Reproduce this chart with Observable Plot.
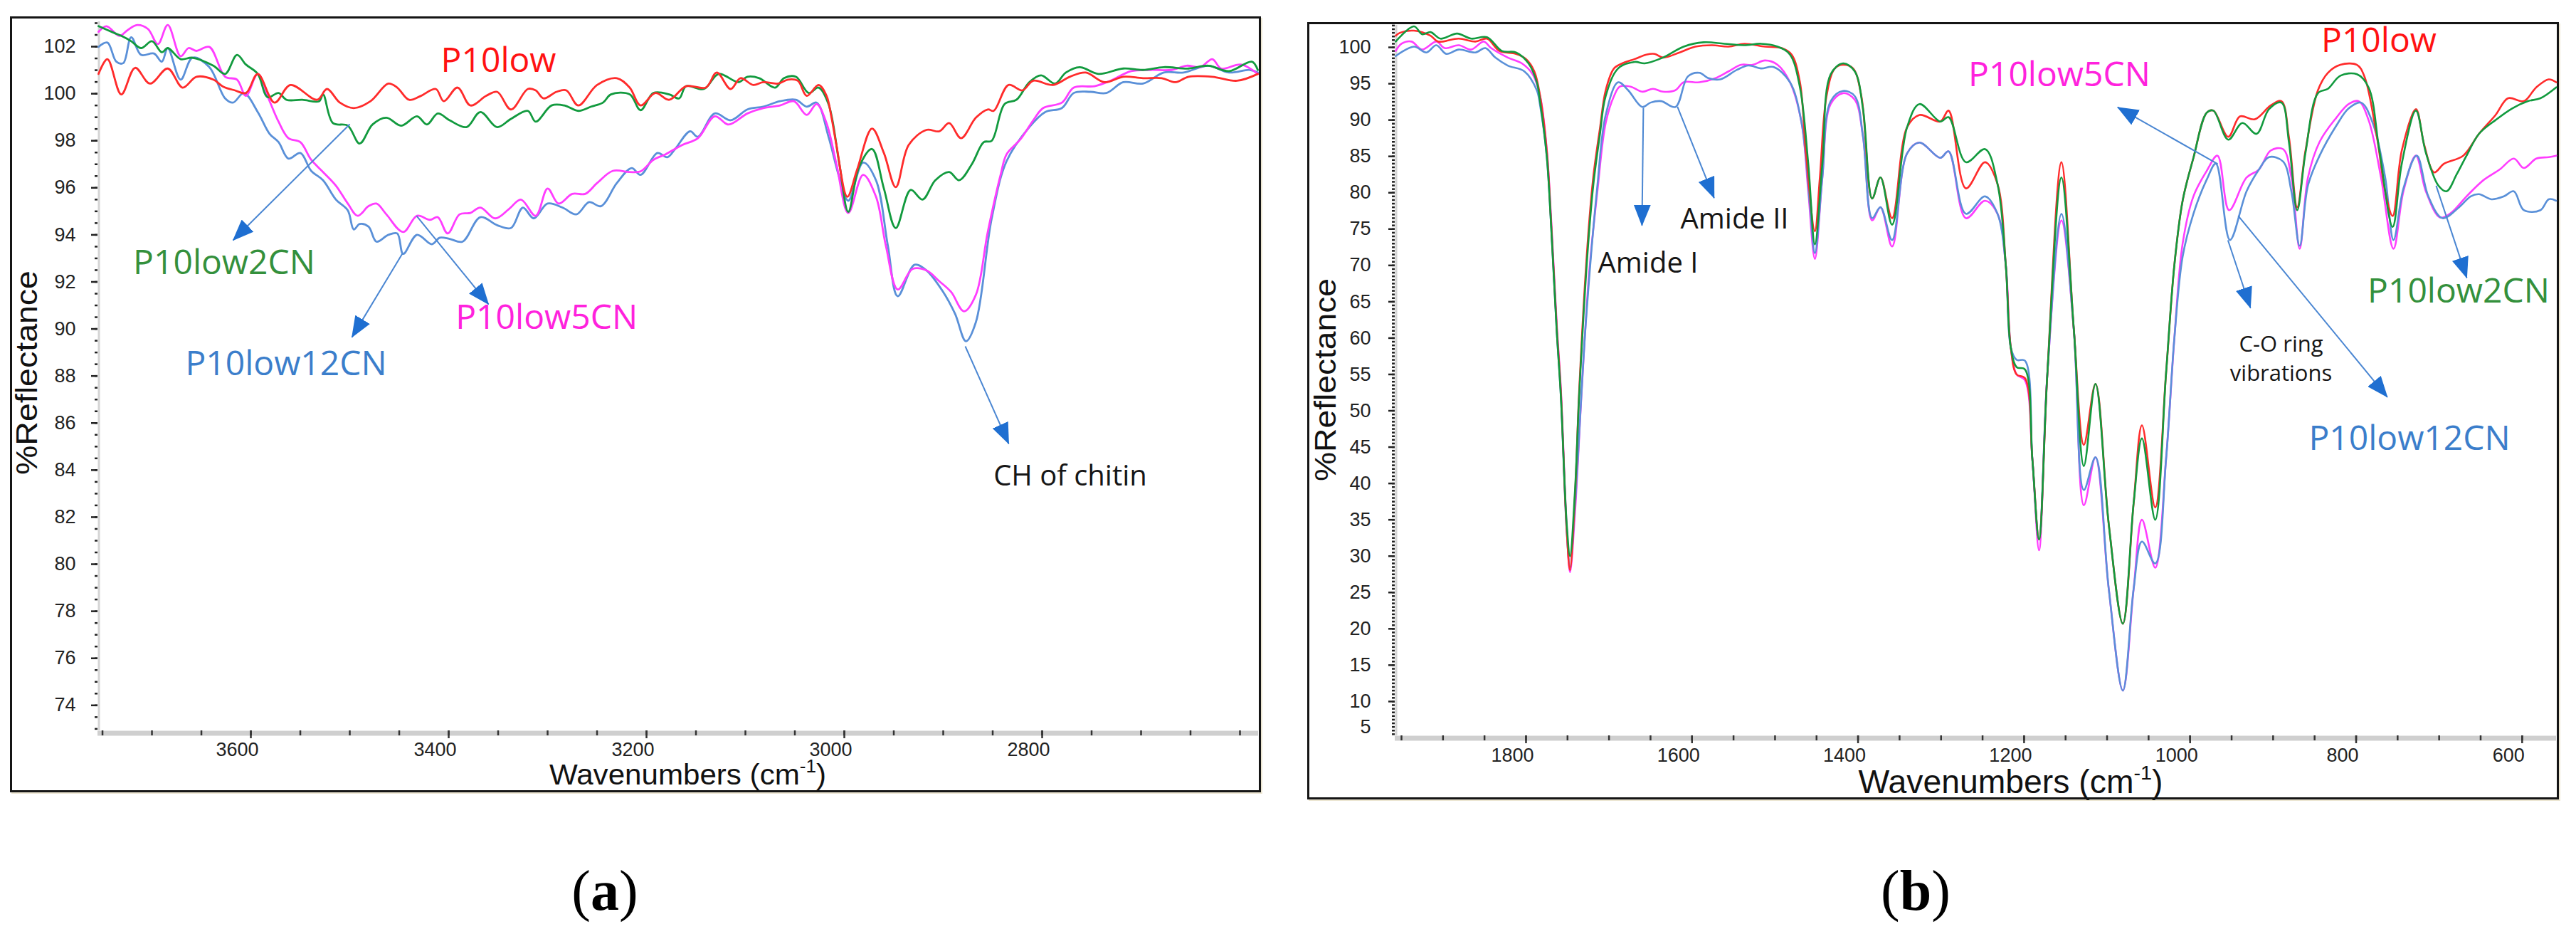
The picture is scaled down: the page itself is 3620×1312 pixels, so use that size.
<!DOCTYPE html>
<html><head><meta charset="utf-8">
<script src="https://cdn.jsdelivr.net/npm/d3@7"></script>
<script src="https://cdn.jsdelivr.net/npm/@observablehq/plot@0.6"></script>
<style>
html,body{margin:0;padding:0;background:#fff;}
body{width:3620px;height:1312px;position:relative;overflow:hidden;}
.box{position:absolute;box-sizing:border-box;border:3px solid #151515;box-shadow:2px 2px 0 #ece6d2;background:#fff;}
.plot{position:absolute;}
.plot svg{display:block;overflow:visible;}
.tag{position:absolute;font-family:"Liberation Serif","Times New Roman",serif;font-size:80px;line-height:80px;transform:translateX(-50%);white-space:nowrap;color:#000;}
</style>
</head><body>
<div class="box" style="left:14px;top:23px;width:1758px;height:1090px"></div>
<div class="box" style="left:1837px;top:31px;width:1759px;height:1092px"></div>
<div id="pa" class="plot" style="left:17px;top:26px"></div>
<div id="pb" class="plot" style="left:1840px;top:34px"></div>
<div class="tag" style="left:850px;top:1211px">(<b>a</b>)</div>
<div class="tag" style="left:2692px;top:1211px">(<b>b</b>)</div>
<script>
// ---------------- Panel (a): 3750–2600 cm-1 ----------------
const aP10low = [[3754,100.84],[3745,101.47],[3731,99.97],[3717,101.1],[3702,100.43],[3684,101.07],[3669,100.26],[3655,100.72],[3638,100.6],[3628,100.3],[3616,100.14],[3605,100.03],[3593,100.84],[3576,99.62],[3560,100.37],[3533,99.74],[3523,100.2],[3510,99.62],[3496,99.39],[3479,99.68],[3461,100.43],[3452,100.26],[3440,99.74],[3428,99.91],[3413,100.2],[3405,99.68],[3391,100.26],[3378,99.5],[3362,99.91],[3351,100.08],[3337,99.33],[3320,100.2],[3312,100.14],[3304,99.8],[3291,100.08],[3281,100.14],[3269,99.5],[3250,100.37],[3230,100.66],[3217,100.26],[3206,99.5],[3191,100.03],[3177,99.74],[3160,100.32],[3140,100.26],[3129,100.9],[3115,100.2],[3105,100.66],[3092,100.37],[3082,100.49],[3067,100.43],[3057,100.6],[3047,100.55],[3038,99.91],[3026,100.37],[3018,99.91],[3013,99.0],[3008,97.82],[2997,95.62],[2987,96.78],[2972,98.52],[2960,97.48],[2948,96.03],[2935,97.82],[2917,98.46],[2904,98.4],[2894,98.75],[2882,98.11],[2867,98.98],[2855,99.33],[2849,99.27],[2834,100.37],[2820,100.14],[2809,100.55],[2789,100.37],[2772,100.72],[2756,100.9],[2737,100.49],[2718,100.72],[2698,100.66],[2679,100.66],[2665,100.49],[2652,100.72],[2628,100.72],[2603,100.55],[2582,100.84]];
const aP10low2CN = [[3754,102.87],[3738,102.58],[3731,102.46],[3721,102.23],[3711,101.94],[3700,102.23],[3690,101.76],[3684,101.94],[3671,101.47],[3659,101.53],[3638,101.19],[3626,100.84],[3614,101.65],[3605,101.24],[3593,100.84],[3583,99.85],[3572,100.03],[3564,99.74],[3548,99.74],[3531,99.68],[3527,99.97],[3517,98.75],[3502,98.64],[3490,97.88],[3477,98.69],[3463,98.98],[3448,98.64],[3432,99.04],[3422,98.69],[3411,99.16],[3399,98.87],[3382,98.58],[3368,99.22],[3351,98.58],[3337,98.93],[3320,99.27],[3312,98.81],[3296,99.5],[3283,99.5],[3269,99.27],[3256,99.45],[3244,99.62],[3236,99.97],[3217,99.97],[3206,99.3],[3193,100.03],[3177,99.97],[3167,99.8],[3160,100.32],[3142,100.2],[3127,100.84],[3107,100.49],[3098,100.72],[3086,100.66],[3070,100.26],[3061,100.66],[3049,100.72],[3036,100.03],[3026,100.26],[3016,99.56],[3005,97.01],[2996,94.98],[2985,96.9],[2972,97.65],[2960,95.97],[2948,94.29],[2933,95.91],[2921,95.5],[2908,96.32],[2894,96.67],[2884,96.32],[2871,97.01],[2859,97.94],[2851,98.0],[2838,99.56],[2826,99.74],[2813,100.49],[2801,100.78],[2787,100.43],[2776,100.9],[2762,101.13],[2743,100.84],[2718,101.07],[2698,101.01],[2677,101.13],[2652,101.07],[2632,101.19],[2611,100.96],[2588,101.36],[2582,101.01]];
const aP10low5CN = [[3754,102.63],[3746,102.87],[3733,102.46],[3725,102.69],[3715,102.92],[3704,102.75],[3694,102.11],[3684,102.92],[3671,101.59],[3663,101.94],[3655,101.82],[3642,101.99],[3626,100.72],[3614,100.6],[3605,99.91],[3593,100.84],[3581,99.68],[3572,98.81],[3562,98.11],[3550,97.94],[3539,97.19],[3527,96.67],[3514,96.09],[3502,95.33],[3492,94.81],[3481,95.22],[3473,95.33],[3463,94.87],[3446,94.12],[3432,94.81],[3419,94.64],[3411,94.75],[3401,94.06],[3389,94.87],[3378,94.93],[3368,95.16],[3353,94.7],[3339,95.1],[3327,95.5],[3312,94.81],[3300,95.97],[3289,95.33],[3275,95.74],[3262,95.74],[3250,96.2],[3234,96.72],[3217,96.67],[3206,96.7],[3193,97.19],[3181,97.42],[3164,97.82],[3148,98.11],[3131,99.04],[3117,98.69],[3098,99.16],[3082,99.39],[3065,99.5],[3051,99.68],[3038,99.1],[3028,99.56],[3018,98.75],[3008,97.01],[2996,94.93],[2981,96.55],[2968,95.62],[2958,93.54],[2946,91.68],[2931,92.55],[2917,92.49],[2904,92.03],[2892,91.57],[2879,90.75],[2867,91.45],[2855,94.12],[2842,96.55],[2836,97.42],[2822,98.06],[2809,98.87],[2799,99.39],[2780,99.62],[2768,100.26],[2747,100.32],[2731,100.55],[2710,100.96],[2690,101.01],[2669,101.01],[2654,101.19],[2640,101.13],[2628,101.47],[2619,101.07],[2599,101.24],[2582,100.84]];
const aP10low12CN = [[3754,101.99],[3745,102.17],[3736,101.36],[3729,101.3],[3721,102.4],[3711,101.65],[3698,101.71],[3690,101.36],[3684,101.94],[3671,100.6],[3659,101.53],[3642,101.13],[3626,99.8],[3618,99.62],[3607,100.03],[3593,99.22],[3581,98.29],[3572,97.94],[3562,97.24],[3550,97.48],[3539,96.72],[3527,96.32],[3514,95.5],[3502,95.04],[3496,94.23],[3490,94.46],[3481,94.35],[3473,93.71],[3461,94.0],[3452,94.06],[3446,93.19],[3432,94.0],[3417,93.6],[3409,93.88],[3399,93.83],[3386,93.71],[3368,94.75],[3351,94.41],[3337,94.29],[3325,95.16],[3314,94.7],[3300,95.33],[3285,95.16],[3271,94.87],[3258,95.39],[3246,95.22],[3230,96.2],[3215,96.84],[3206,96.55],[3189,97.48],[3179,97.3],[3171,97.65],[3156,98.4],[3148,98.17],[3131,99.16],[3115,98.87],[3098,99.33],[3082,99.45],[3065,99.68],[3049,99.74],[3038,99.45],[3028,99.62],[3016,98.17],[3005,96.43],[2996,95.45],[2981,97.07],[2968,96.32],[2956,93.54],[2946,91.39],[2929,92.73],[2917,92.49],[2900,91.57],[2888,90.64],[2877,89.48],[2867,90.29],[2851,94.7],[2836,97.13],[2813,98.58],[2797,99.22],[2780,99.39],[2768,100.03],[2751,100.08],[2735,100.03],[2718,100.49],[2698,100.43],[2677,100.9],[2657,100.9],[2632,101.19],[2611,100.9],[2590,101.01],[2582,100.9]];

const aXDomain = [3754.7, 2581.3];
const aYDomain = [72.92, 103.06];
const aXTicks = [3600, 3400, 3200, 3000, 2800];
const aYTicks = [74, 76, 78, 80, 82, 84, 86, 88, 90, 92, 94, 96, 98, 100, 102];

const aLabelText  = ["P10low", "P10low2CN", "P10low12CN", "P10low5CN"];
const aLabelW     = [3349.6, 3627, 3564.4, 3301];
const aLabelV     = [101.4, 92.79, 88.5, 90.47];
const aLabelColor = ["#ff1212", "#34903c", "#3b7ecb", "#ff22dd"];

const aNoteText = ["CH of chitin"];
const aNoteW = [2771.6];
const aNoteV = [83.86];

const aArrowW1 = [3500, 3446.8, 3432.4, 2877.7];
const aArrowV1 = [98.7, 93.2, 94.8, 89.26];
const aArrowW2 = [3618, 3497.8, 3359.7, 2833.8];
const aArrowV2 = [93.77, 89.65, 91.05, 85.12];

// ---------------- Panel (b): 1950–560 cm-1 ----------------
const bP10low = [[1957,101.6],[1952,102.0],[1935,102.3],[1915,101.6],[1906,100.8],[1881,101.2],[1861,100.8],[1847,101.2],[1832,99.5],[1812,99.1],[1800,98.4],[1790,96.7],[1783,93.3],[1775,85.8],[1770,76.5],[1763,61.5],[1758,52.6],[1751,33.6],[1747,28.1],[1741,38.3],[1736,52.6],[1726,72.7],[1719,82.1],[1711,88.8],[1704,94.1],[1694,97.1],[1684,97.8],[1669,98.4],[1655,99.0],[1645,99.1],[1635,98.6],[1615,99.3],[1596,100.1],[1576,100.3],[1556,100.1],[1537,100.5],[1512,100.1],[1492,99.9],[1480,99.0],[1470,95.2],[1463,85.8],[1452,74.7],[1446,82.1],[1438,93.3],[1428,97.1],[1418,97.6],[1406,97.1],[1396,93.3],[1383,79.2],[1373,82.1],[1359,76.5],[1341,89],[1326,90.7],[1301,89.8],[1291,91.3],[1270,80.6],[1247,84.2],[1232,81.2],[1222,70],[1216,58.7],[1209,55],[1199,54.5],[1190,43.3],[1182,32.3],[1172,55],[1155,84.2],[1140,61.1],[1128,45.3],[1114,53.7],[1098,34.4],[1081,20.7],[1068,37.3],[1058,48],[1042,36.7],[1029,55.1],[1019,70],[1009,78.9],[996,84.8],[980,91],[972,91.3],[954,87.7],[940,90.5],[922,90.1],[903,92.0],[890,92.6],[881,87.7],[871,78.0],[861,85.8],[846,94.1],[834,96.5],[819,97.6],[799,97.6],[790,96.0],[775,87.7],[765,80.2],[756,76.8],[745,85.8],[728,91.5],[718,86.6],[706,82.8],[694,84.0],[671,85.1],[652,88.1],[632,90.7],[617,93.0],[598,92.6],[583,94.5],[568,95.6],[559,95.2]];
const bP10low2CN = [[1957,100.8],[1935,102.9],[1925,101.8],[1915,102.1],[1903,101.2],[1883,101.9],[1866,101.2],[1847,101.4],[1829,99.5],[1812,99.3],[1797,97.8],[1787,95.2],[1783,92.5],[1775,85],[1770,76],[1763,61],[1758,52],[1751,34.5],[1747,30.0],[1741,39],[1736,52],[1726,71.5],[1719,81],[1711,88],[1704,93.3],[1689,97.1],[1669,98.0],[1657,97.8],[1635,98.6],[1610,100.1],[1586,100.7],[1561,100.5],[1537,100.3],[1517,100.5],[1497,100.1],[1482,99.0],[1470,94.5],[1460,84],[1452,72.9],[1443,84],[1433,96.3],[1418,97.8],[1404,96.7],[1394,91.5],[1383,79.2],[1373,82.1],[1359,75.6],[1341,89],[1326,92.2],[1301,89.8],[1291,90.4],[1270,84.2],[1247,86],[1232,81.2],[1222,70],[1216,58.7],[1209,56],[1199,55.7],[1190,43.3],[1182,32.3],[1172,55],[1155,82.1],[1140,61.1],[1128,42.4],[1114,53.7],[1098,34.4],[1081,20.7],[1068,37.3],[1058,46.2],[1042,35],[1029,55.1],[1019,70],[1009,78.9],[996,84.8],[980,91],[972,91.3],[954,87.3],[937,89.6],[920,88.1],[905,91.5],[890,92.4],[881,87],[871,77.6],[861,85.5],[846,93.7],[834,94.3],[819,96.1],[799,96.3],[785,94.5],[772,85.8],[756,75.3],[745,84],[728,91.3],[716,85.5],[701,81],[691,80.2],[679,82.5],[667,85.1],[652,88.1],[632,90],[612,91.6],[593,92.6],[578,93],[559,94.5]];
const bP10low5CN = [[1957,99.5],[1950,100.5],[1938,100.8],[1925,99.7],[1908,100.8],[1898,99.9],[1881,100.3],[1866,99.7],[1851,100.8],[1842,99.9],[1822,98.6],[1805,97.8],[1792,96.3],[1783,93.3],[1775,86],[1770,77],[1763,62],[1758,53],[1751,34],[1747,27.8],[1741,36],[1733,52.6],[1724,68.9],[1714,80.2],[1704,89.6],[1694,93.3],[1687,94.6],[1674,94.6],[1660,93.9],[1647,94.3],[1635,93.9],[1620,94.1],[1610,95.2],[1591,95.2],[1571,95.8],[1556,96.7],[1541,97.6],[1527,97.6],[1512,98.2],[1497,97.6],[1482,95.2],[1468,89.6],[1460,80.2],[1452,70.9],[1443,82.1],[1433,92.2],[1418,93.7],[1404,92.8],[1394,87.7],[1383,76.2],[1373,78],[1359,72.6],[1341,85.4],[1326,86.9],[1301,84.8],[1291,85.7],[1270,76.5],[1247,78.9],[1232,77.1],[1222,70],[1216,58.7],[1209,55],[1199,54.2],[1190,43.3],[1182,30.8],[1172,55],[1155,76.2],[1140,61],[1128,37],[1114,43.6],[1098,25.5],[1081,11.5],[1068,25.5],[1058,35],[1042,28.4],[1029,43.3],[1019,59.9],[1009,73],[996,79.5],[980,83],[967,85.1],[953,77.6],[932,82.1],[917,83.2],[903,85.8],[888,86.0],[878,82.1],[868,72.3],[858,82.1],[844,87],[824,90.3],[809,92.2],[797,92.6],[785,90],[770,82.1],[755,72.3],[743,80.2],[728,85.1],[716,80.2],[699,76.6],[686,77.2],[667,79.5],[647,81.7],[627,83.2],[610,84.7],[598,83.4],[583,84.7],[568,84.9],[559,85.1]];
const bP10low12CN = [[1957,98.8],[1935,100.1],[1920,99.3],[1908,100.3],[1896,99.1],[1881,99.7],[1861,99.3],[1849,99.9],[1837,98.6],[1822,97.5],[1802,96.7],[1787,94.1],[1783,92],[1775,85],[1770,76],[1763,61],[1758,52],[1751,33.5],[1747,28.5],[1741,37],[1728,62],[1714,81],[1704,90.7],[1689,95.2],[1677,94.1],[1660,91.8],[1650,92.4],[1637,92.6],[1620,91.8],[1605,96.0],[1591,96.5],[1581,95.8],[1566,95.6],[1546,96.9],[1532,97.5],[1517,97.1],[1502,97.3],[1482,95.2],[1468,89.6],[1458,78.3],[1452,71.7],[1443,82.1],[1433,92.6],[1418,94.0],[1404,93.3],[1394,87.7],[1383,76.5],[1373,78],[1359,73.5],[1341,85.4],[1326,86.9],[1301,84.8],[1291,85.7],[1270,77.1],[1247,79.5],[1232,77.1],[1222,70],[1216,58.7],[1209,57],[1199,56.9],[1190,43.3],[1182,32.3],[1172,55],[1155,77.1],[1140,61],[1128,39.1],[1114,43.6],[1098,25.5],[1081,11.5],[1068,25.5],[1058,32],[1042,29],[1029,43.3],[1019,59.9],[1009,71.2],[996,77.1],[980,81.8],[969,84],[952,73.5],[932,80.2],[917,83.2],[905,84.9],[888,84.3],[878,80.2],[868,72.7],[858,81],[844,85.1],[824,89.2],[809,91.6],[794,92.4],[780,89.6],[765,82.1],[755,73.5],[743,80.6],[727,85.1],[713,79.5],[696,76.5],[676,78],[662,79.5],[652,79.8],[637,79.1],[622,79.5],[610,80.2],[598,77.6],[578,77.6],[568,79.1],[559,78.9]];

const bXDomain = [1957.7, 558.7];
const bYDomain = [5.29, 103.04];
const bXTicks = [1800, 1600, 1400, 1200, 1000, 800, 600];
const bYTicks = [10, 15, 20, 25, 30, 35, 40, 45, 50, 55, 60, 65, 70, 75, 80, 85, 90, 95, 100];
const bYBottomLabel = ["5"];

const bLabelText  = ["P10low", "P10low5CN", "P10low2CN", "P10low12CN"];
const bLabelW     = [772.6, 1157.5, 676.6, 735.7];
const bLabelV     = [100.83, 96.13, 66.36, 46.13];
const bLabelColor = ["#ff1212", "#ff22dd", "#34903c", "#3b7ecb"];

const bNoteText = ["Amide I", "Amide II", "C-O ring\nvibrations"];
const bNoteW = [1653, 1548.8, 890.4];
const bNoteV = [70.67, 76.74, 57.45];
const bNoteSize = [40, 40, 31];

const bArrowW1 = [1658.6, 1617.6, 966.7, 954.4, 942.1, 703.6];
const bArrowV1 = [91.67, 91.83, 83.96, 73.46, 76.83, 80.96];
const bArrowW2 = [1660.3, 1573.4, 1087.3, 927.3, 762.4, 666.7];
const bArrowV2 = [75.5, 79.27, 91.76, 64.15, 51.88, 68.28];

const seriesColors = {P10low: "#ff2b2b", P10low2CN: "#129a3e", P10low5CN: "#ff3dff", P10low12CN: "#5a90d8"};

// ---------------- builder ----------------
function zip(...cols) { return cols[0].map((_, i) => cols.map(c => c[i])); }

function buildPanel(c) {
  const xMinor = d3.range(c.xMinorStart, c.xMinorEnd - 1, -50);
  const yMinor = d3.range(c.yMinorStart, c.yDomain[1], 0.5);
  const marks = [
    Plot.ruleY([c.yDomain[0]], {stroke: "#cfcfcf", strokeWidth: 7, dy: 3.5}),
    Plot.ruleX([c.xDomain[0]], {stroke: "#d4d4d4", strokeWidth: 3, dx: 1.5}),
    Plot.axisX({ticks: xMinor, tickSize: 7, strokeWidth: 2.5, color: "#333", tickFormat: () => "", label: null}),
    Plot.axisX({ticks: c.xTicks, tickSize: 11, strokeWidth: 2.5, color: "#333", tickFormat: () => "", label: null}),
    Plot.text(c.xTicks, {x: d => d, text: d => String(d), frameAnchor: "bottom", dy: c.xLabelDy, dx: -19, fontSize: 27, fill: "#222", lineAnchor: "middle"}),
    Plot.axisY({ticks: yMinor, tickSize: 4, strokeWidth: 2.5, color: "#222", tickFormat: () => "", label: null}),
    Plot.axisY({ticks: c.yTicks, tickSize: 9, tickPadding: c.yPad, strokeWidth: 2.5, color: "#222", fontSize: 27, tickFormat: d => String(d), label: null})
  ];
  if (c.extra) marks.push(...c.extra);
  for (const s of c.series) {
    marks.push(Plot.line(s.data, {x: d => d[0], y: d => d[1], stroke: s.color, strokeWidth: c.lineWidth, curve: "catmull-rom"}));
  }
  marks.push(Plot.link(zip(c.arrows.w1, c.arrows.v1, c.arrows.w2, c.arrows.v2), {
    x1: d => d[0], y1: d => d[1], x2: d => d[2], y2: d => d[3], stroke: "#4a86d2", strokeWidth: 2
  }));
  c.labels.text.forEach((t, i) => {
    marks.push(Plot.text([t], {x: () => c.labels.w[i], y: () => c.labels.v[i], text: d => d, fill: c.labels.color[i], fontFamily: "'Open Sans', 'Noto Sans', sans-serif", fontSize: 48, lineAnchor: "middle"}));
  });
  c.notes.text.forEach((t, i) => {
    marks.push(Plot.text([t], {x: () => c.notes.w[i], y: () => c.notes.v[i], text: d => d, fill: "#161616", fontFamily: "'Open Sans', 'Noto Sans', sans-serif", fontSize: c.notes.size[i], lineHeight: 1.32, lineAnchor: "middle"}));
  });
  marks.push(Plot.text(["%Reflectance"], {frameAnchor: "left", rotate: -90, dx: c.yTitleDx, dy: c.yTitleDy, fontSize: 43, fill: "#111", lineAnchor: "middle", textAnchor: "middle"}));
  marks.push(Plot.text(["Wavenumbers (cm-1)"], {frameAnchor: "bottom", dx: c.xTitleDx, dy: c.xTitleDy, fontSize: c.xTitleSize, fill: "#111", lineAnchor: "bottom", textAnchor: "middle"}));

  const svg = Plot.plot({
    width: c.width, height: c.height,
    marginLeft: c.ml, marginRight: c.mr, marginTop: c.mt, marginBottom: c.mb,
    x: {domain: c.xDomain}, y: {domain: c.yDomain},
    style: {fontFamily: "'Liberation Sans', Arial, sans-serif", fontSize: "27px", color: "#222", background: "transparent", overflow: "visible"},
    marks
  });

  // arrowheads (filled triangles) for the annotation links
  const ns = "http://www.w3.org/2000/svg";
  const defs = document.createElementNS(ns, "defs");
  const m = document.createElementNS(ns, "marker");
  m.setAttribute("id", c.id + "-head");
  m.setAttribute("viewBox", "0 0 30 24");
  m.setAttribute("refX", "29"); m.setAttribute("refY", "12");
  m.setAttribute("markerWidth", "30"); m.setAttribute("markerHeight", "24");
  m.setAttribute("markerUnits", "userSpaceOnUse"); m.setAttribute("orient", "auto");
  const p = document.createElementNS(ns, "path");
  p.setAttribute("d", "M0,0L30,12L0,24Z"); p.setAttribute("fill", "#1f6fd1");
  m.appendChild(p); defs.appendChild(m); svg.insertBefore(defs, svg.firstChild);
  svg.querySelectorAll('g[aria-label="link"] path').forEach(el => el.setAttribute("marker-end", `url(#${c.id}-head)`));

  // superscript in axis title, stretched titles as in the source image
  svg.querySelectorAll("text").forEach(t => {
    if (t.textContent === "Wavenumbers (cm-1)") {
      while (t.firstChild) t.removeChild(t.firstChild);
      const a = document.createElementNS(ns, "tspan"); a.textContent = "Wavenumbers (cm";
      const b = document.createElementNS(ns, "tspan"); b.textContent = "-1"; b.setAttribute("dy", String(-0.4 * c.xTitleSize)); b.setAttribute("font-size", String(0.62 * c.xTitleSize));
      const d = document.createElementNS(ns, "tspan"); d.textContent = ")"; d.setAttribute("dy", String(0.4 * c.xTitleSize));
      t.appendChild(a); t.appendChild(b); t.appendChild(d);
      t.setAttribute("textLength", String(c.xTitleLen));
      t.setAttribute("lengthAdjust", "spacingAndGlyphs");
    } else if (t.textContent === "%Reflectance") {
      t.setAttribute("textLength", String(c.yTitleLen));
      t.setAttribute("lengthAdjust", "spacingAndGlyphs");
    }
  });
  return svg;
}

document.getElementById("pa").appendChild(buildPanel({
  id: "pa", width: 1752, height: 1084, ml: 120, mr: 1, mt: 4, mb: 84,
  xDomain: aXDomain, yDomain: aYDomain, xTicks: aXTicks, yTicks: aYTicks,
  xMinorStart: 3750, xMinorEnd: 2600, yMinorStart: 73,
  xLabelDy: 27, yPad: 22, lineWidth: 2.8,
  yTitleDx: -99, yTitleDy: -5, yTitleLen: 287,
  xTitleDx: 13.5, xTitleDy: 75, xTitleSize: 41, xTitleLen: 389,
  series: [
    {data: aP10low12CN, color: seriesColors.P10low12CN},
    {data: aP10low5CN, color: seriesColors.P10low5CN},
    {data: aP10low2CN, color: seriesColors.P10low2CN},
    {data: aP10low, color: seriesColors.P10low}
  ],
  arrows: {w1: aArrowW1, v1: aArrowV1, w2: aArrowW2, v2: aArrowV2},
  labels: {text: aLabelText, w: aLabelW, v: aLabelV, color: aLabelColor},
  notes: {text: aNoteText, w: aNoteW, v: aNoteV, size: [40]}
}));

document.getElementById("pb").appendChild(buildPanel({
  id: "pb", width: 1753, height: 1086, ml: 120, mr: 1, mt: 1, mb: 87,
  xDomain: bXDomain, yDomain: bYDomain, xTicks: bXTicks, yTicks: bYTicks,
  xMinorStart: 1950, xMinorEnd: 600, yMinorStart: 5.5,
  xLabelDy: 28, yPad: 25, lineWidth: 2.6,
  yTitleDx: -97, yTitleDy: -1, yTitleLen: 285,
  xTitleDx: 49, xTitleDy: 80, xTitleSize: 46, xTitleLen: 428,
  extra: [Plot.text(bYBottomLabel, {frameAnchor: "bottom-left", dx: -34, dy: -12, textAnchor: "end", lineAnchor: "middle", fontSize: 27, fill: "#222"})],
  series: [
    {data: bP10low5CN, color: seriesColors.P10low5CN},
    {data: bP10low12CN, color: seriesColors.P10low12CN},
    {data: bP10low, color: seriesColors.P10low},
    {data: bP10low2CN, color: seriesColors.P10low2CN}
  ],
  arrows: {w1: bArrowW1, v1: bArrowV1, w2: bArrowW2, v2: bArrowV2},
  labels: {text: bLabelText, w: bLabelW, v: bLabelV, color: bLabelColor},
  notes: {text: bNoteText, w: bNoteW, v: bNoteV, size: bNoteSize}
}));
</script>
</body></html>
